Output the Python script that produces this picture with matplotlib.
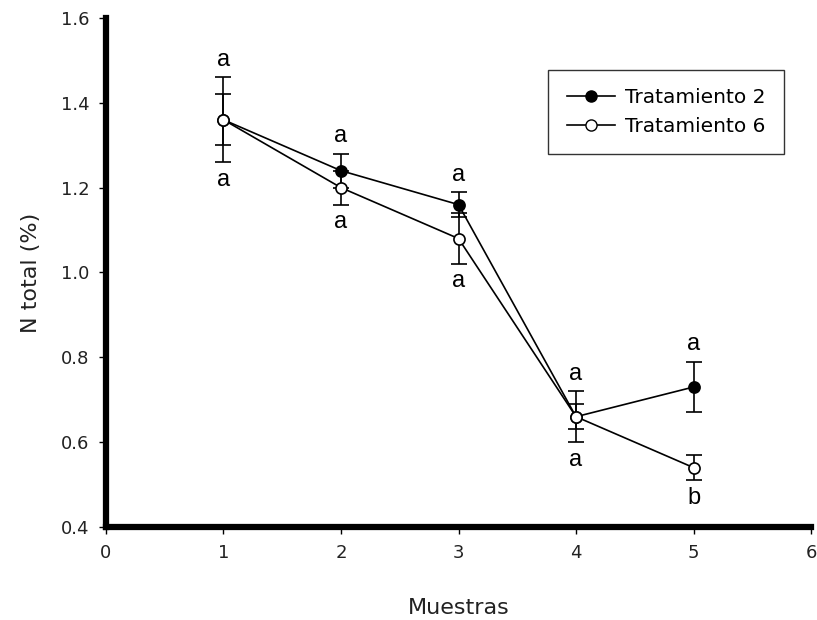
import matplotlib
matplotlib.use("Agg")
import matplotlib.pyplot as plt
from matplotlib.lines import Line2D

plt.rcParams['font.family'] = ['DejaVu Sans']

muestras = [1, 2, 3, 4, 5]
trat2 = [1.36, 1.24, 1.16, 0.66, 0.73]
trat2_err = [0.06, 0.04, 0.03, 0.03, 0.06]
trat6 = [1.36, 1.20, 1.08, 0.66, 0.54]
trat6_err = [0.10, 0.04, 0.06, 0.06, 0.03]
letras_sup = ['a', 'a', 'a', 'a', 'a']
letras_inf = ['a', 'a', 'a', 'a', 'b']

fig = plt.figure(figsize=(8.17, 6.2), dpi=100)
ax = fig.add_axes([0.1297, 0.15, 0.863, 0.821])

common = dict(color='black', lw=1.2, marker='o', ms=8, mec='black', mew=1.2,
              ecolor='black', elinewidth=1.2, capsize=5.5, capthick=1.2)
ax.errorbar(muestras, trat2, yerr=trat2_err, mfc='black', zorder=3, **common)
ax.errorbar(muestras, trat6, yerr=trat6_err, mfc='white', zorder=4, **common)

# significance letters above the upper bar and below the lower bar
for x, a2, e2, a6, e6, ls, li in zip(muestras, trat2, trat2_err, trat6, trat6_err,
                                     letras_sup, letras_inf):
    top = max(a2 + e2, a6 + e6)
    bot = min(a2 - e2, a6 - e6)
    ax.annotate(ls, (x, top), xytext=(0, 12.5), textcoords='offset points',
                ha='center', va='center', fontsize=17, family='Liberation Sans')
    ax.annotate(li, (x, bot), xytext=(0, -12.5), textcoords='offset points',
                ha='center', va='center', fontsize=17, family='Liberation Sans')

ax.set_xlim(0, 6)
ax.set_ylim(0.4, 1.6)
ax.set_xticks(range(0, 7))
ax.set_yticks([0.4, 0.6, 0.8, 1.0, 1.2, 1.4, 1.6])
ax.set_yticklabels(['0.4', '0.6', '0.8', '1.0', '1.2', '1.4', '1.6'])
ax.tick_params(direction='out', length=5, width=1, labelsize=13, pad=7,
               colors='black', labelcolor='#222222')

for s in ['top', 'right']:
    ax.spines[s].set_visible(False)
for s in ['left', 'bottom']:
    ax.spines[s].set_linewidth(4.5)
    ax.spines[s].set_color('black')

ax.set_xlabel('Muestras', fontsize=16, labelpad=26, color='#222222')
ax.set_ylabel('N total (%)', fontsize=16, labelpad=14, color='#222222')

handles = [
    Line2D([], [], color='black', lw=1.2, marker='o', ms=8, mfc='black', mec='black'),
    Line2D([], [], color='black', lw=1.2, marker='o', ms=8, mfc='white', mec='black'),
]
leg = ax.legend(handles, ['Tratamiento 2', 'Tratamiento 6'], loc='upper right',
                bbox_to_anchor=(0.961, 0.898), fontsize=14.5, frameon=True,
                fancybox=False, edgecolor='black', handlelength=2.4,
                handletextpad=0.5, borderpad=0.9, labelspacing=0.5,
                borderaxespad=0)
leg.get_frame().set_linewidth(1.0)

fig.savefig('out.png', dpi=100)
